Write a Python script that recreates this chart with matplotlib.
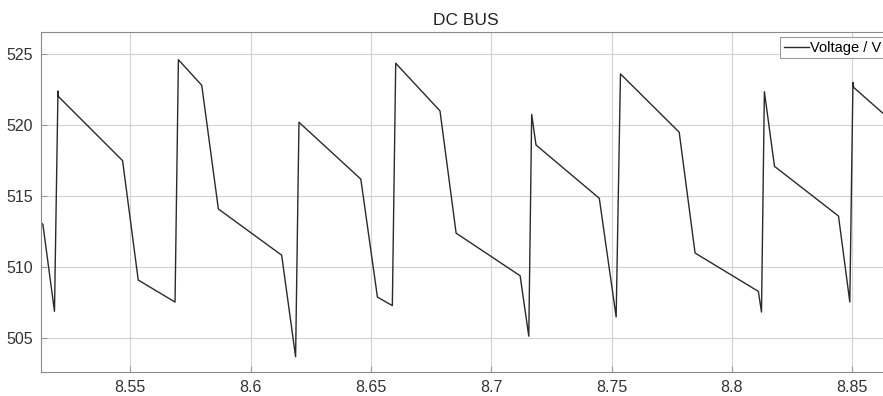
import matplotlib

matplotlib.use("Agg")
import matplotlib.pyplot as plt

# DC bus voltage samples (time in s, voltage in V)
t = [8.5132, 8.5137, 8.5185, 8.51995, 8.5202, 8.5468, 8.5533, 8.5686,
     8.5700, 8.5797, 8.5866, 8.6129, 8.6187, 8.6201, 8.6458, 8.6527,
     8.6589, 8.6603, 8.6787, 8.6854, 8.7120, 8.7156, 8.7168, 8.7186,
     8.7449, 8.7519, 8.7537, 8.7781, 8.7847, 8.8110, 8.8123, 8.8135,
     8.8177, 8.8443, 8.8490, 8.8503, 8.8506, 8.8660]
v = [513.1, 513.0, 506.9, 522.4, 522.0, 517.5, 509.1, 507.55,
     524.6, 522.8, 514.1, 510.85, 503.7, 520.2, 516.2, 507.9,
     507.3, 524.35, 521.0, 512.4, 509.4, 505.15, 520.75, 518.6,
     514.85, 506.5, 523.6, 519.5, 511.0, 508.3, 506.85, 522.35,
     517.1, 513.6, 507.55, 523.0, 522.65, 520.35]

xticks = [8.55, 8.6, 8.65, 8.7, 8.75, 8.8, 8.85]
xticklabels = ["8.55", "8.6", "8.65", "8.7", "8.75", "8.8", "8.85"]
yticks = [505, 510, 515, 520, 525]

plt.rcParams['font.family'] = ['Liberation Sans', 'DejaVu Sans']

fig = plt.figure(figsize=(8.83, 3.96), dpi=100)
# axes runs a little past the right edge, like the cropped original
ax = fig.add_axes([41 / 883, 24 / 396, 849 / 883, 340 / 396])

ax.plot(t, v, color='#2a2a2a', lw=1.0, label='Voltage / V')

ax.set_xlim(8.5129, 8.8657)
ax.set_ylim(502.63, 526.55)
ax.set_xticks(xticks)
ax.set_xticklabels(xticklabels)
ax.set_yticks(yticks)

ax.grid(True, color='#d2d2d2', lw=0.8)
ax.set_axisbelow(True)
for s in ax.spines.values():
    s.set_color('#8a8a8a')
    s.set_linewidth(0.8)
ax.tick_params(direction='in', length=4, width=0.6, color='#8a8a8a',
               labelsize=11.5, labelcolor='#333333', pad=6)

ax.set_title("DC BUS", fontsize=12.5, color='#222222', pad=5)

leg = ax.legend(loc='upper right', fontsize=10.5, fancybox=False,
                edgecolor='#9a9a9a', framealpha=1, handlelength=1.7,
                handletextpad=0.1, borderpad=0.25, borderaxespad=0.35)
leg.get_frame().set_linewidth(0.8)

fig.savefig("out.png", dpi=100)
